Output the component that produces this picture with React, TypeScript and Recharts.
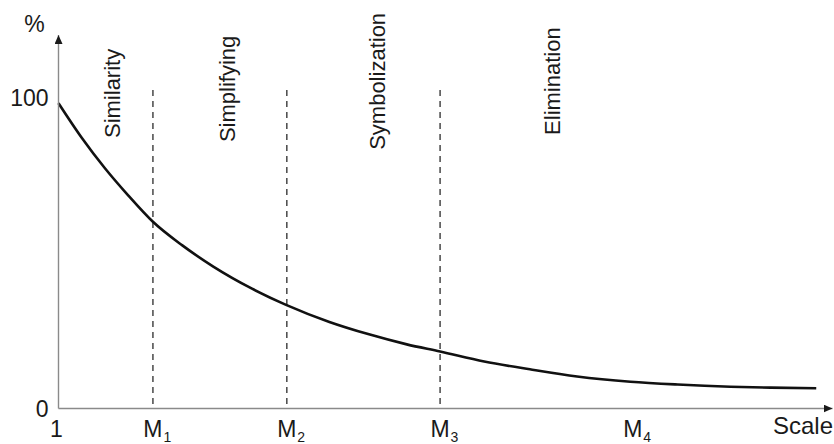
import React from 'react';
import { LineChart, Line, XAxis, YAxis, ReferenceLine, ReferenceDot, Label } from 'recharts';

// Curve (x in relative scale units 0..100, y in %)
const curveX = [0, 3, 6, 9, 12.2, 16, 20, 25, 29.4, 35, 40, 45, 49.3, 55, 60.9, 67, 73.9, 80, 86.8, 92, 97.9];
const curveY = [98.1, 87.0, 77.2, 68.5, 60.0, 52.4, 45.6, 38.5, 33.3, 27.8, 23.9, 20.6, 18.3, 15.1, 12.6, 10.3, 8.6, 7.7, 7.0, 6.7, 6.5];

const xTickValues = [0, 12.2, 29.5, 49.3, 74.2];
const xTickMain = ['1', 'M', 'M', 'M', 'M'];
const xTickSub = ['', '1', '2', '3', '4'];

const yTickValues = [0, 100];
const yTickLabels = ['0', '100'];

const boundaryValues = [12.2, 29.5, 49.3];
const boundaryTop = 102.3;

const phaseNames = ['Similarity', 'Simplifying', 'Symbolization', 'Elimination'];
const phaseX = [7.9, 22.8, 42.2, 64.8];
const phaseY = [86.9, 85.6, 83.1, 87.9];

const data = curveX.map((x, i) => ({ x, y: curveY[i] }));

const FONT = '"Liberation Sans", Arial, Helvetica, sans-serif';
const TEXT = '#1a1a1a';

const XTick = (props: any) => {
  const { x, y, payload } = props;
  const i = xTickValues.indexOf(payload.value);
  if (i < 0) return null;
  const main = xTickMain[i];
  const sub = xTickSub[i];
  const base = y + 18.5;
  if (!sub) {
    return (
      <text x={x - 2} y={base} textAnchor="middle" fontFamily={FONT} fontSize={23} fill={TEXT}>
        {main}
      </text>
    );
  }
  return (
    <g>
      <text x={x} y={base} textAnchor="middle" fontFamily={FONT} fontSize={23} fill={TEXT}>
        {main}
      </text>
      <text x={x + 10.5} y={base + 4.5} textAnchor="start" fontFamily={FONT} fontSize={14} fill={TEXT}>
        {sub}
      </text>
    </g>
  );
};

const YTick = (props: any) => {
  const { x, y, payload } = props;
  const i = yTickValues.indexOf(payload.value);
  if (i < 0) return null;
  return (
    <text x={x} y={y} dy="0.36em" textAnchor="end" fontFamily={FONT} fontSize={23} fill={TEXT}>
      {yTickLabels[i]}
    </text>
  );
};

const PhaseLabel = (name: string) => (props: any) => {
  const vb = props.viewBox || {};
  const cx = vb.x + (vb.width || 0) / 2;
  const cy = vb.y + (vb.height || 0) / 2;
  return (
    <text
      x={cx}
      y={cy}
      transform={`rotate(-90, ${cx}, ${cy})`}
      textAnchor="start"
      fontFamily={FONT}
      fontSize={22}
      fill={TEXT}
    >
      {name}
    </text>
  );
};

const PercentLabel = (props: any) => {
  const vb = props.viewBox || {};
  return (
    <text x={vb.x + 34} y={vb.y - 3} textAnchor="middle" fontFamily={FONT} fontSize={23} fill={TEXT}>
      %
    </text>
  );
};

const ScaleLabel = (props: any) => {
  const vb = props.viewBox || {};
  return (
    <text x={vb.x + vb.width + 0.5} y={vb.y + 25.5} textAnchor="end" fontFamily={FONT} fontSize={24} fill={TEXT}>
      Scale
    </text>
  );
};

export default function App() {
  return (
    <div style={{ position: 'absolute', left: 0, top: 0, width: 834, height: 444, background: '#fff' }}>
      <svg width={0} height={0} style={{ position: 'absolute', left: 0, top: 0 }}>
        <defs>
          <marker
            id="axisArrow"
            viewBox="0 0 9 8"
            refX={9}
            refY={4}
            markerWidth={9}
            markerHeight={8}
            markerUnits="userSpaceOnUse"
            orient="auto-start-reverse"
          >
            <path d="M0,0 L9,4 L0,8 z" fill="#1a1a1a" />
          </marker>
        </defs>
      </svg>
      <LineChart
        width={834}
        height={444}
        data={data}
        margin={{ top: 35, right: 1.5, left: 0.5, bottom: 0 }}
      >
        <XAxis
          dataKey="x"
          type="number"
          domain={[0, 100]}
          ticks={xTickValues}
          interval={0}
          height={35.5}
          tickLine={false}
          tickSize={0}
          tickMargin={10}
          tick={<XTick />}
          axisLine={{ stroke: '#8a8a8a', strokeWidth: 1.4, markerEnd: 'url(#axisArrow)' } as any}
        >
          <Label content={<ScaleLabel />} />
        </XAxis>
        <YAxis
          type="number"
          domain={[0, 120]}
          ticks={yTickValues}
          interval={0}
          width={58}
          tickLine={false}
          tickSize={0}
          tickMargin={10}
          tick={<YTick />}
          axisLine={{ stroke: '#8a8a8a', strokeWidth: 1.4, markerStart: 'url(#axisArrow)' } as any}
        >
          <Label content={<PercentLabel />} />
        </YAxis>
        {boundaryValues.map((bx, i) => (
          <ReferenceLine
            key={'b' + i}
            segment={[{ x: bx, y: boundaryTop }, { x: bx, y: 0 }]}
            stroke="#3a3a3a"
            strokeWidth={1.4}
            strokeDasharray="6 5"
          />
        ))}
        {phaseNames.map((n, i) => (
          <ReferenceDot
            key={'p' + i}
            x={phaseX[i]}
            y={phaseY[i]}
            r={0}
            fill="none"
            stroke="none"
            label={PhaseLabel(n)}
          />
        ))}
        <Line
          type="monotone"
          dataKey="y"
          stroke="#111"
          strokeWidth={2.6}
          dot={false}
          activeDot={false}
          isAnimationActive={false}
        />
      </LineChart>
    </div>
  );
}
